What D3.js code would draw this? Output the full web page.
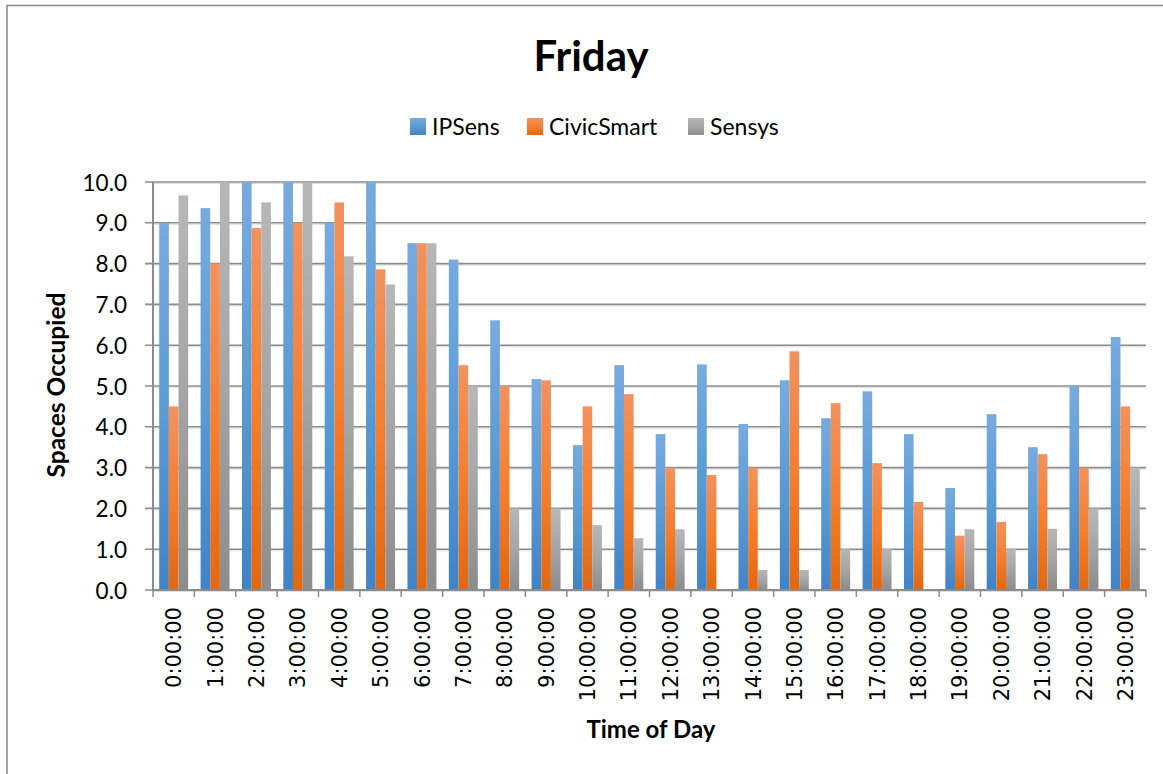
<!DOCTYPE html>
<html>
<head>
<meta charset="utf-8">
<script src="https://cdn.jsdelivr.net/npm/d3@7"></script>
<style>
  html, body { margin: 0; padding: 0; background: #fff; }
  svg { display: block; }
</style>
</head>
<body>
<svg id="chart" width="1163" height="774"></svg>
<script>
const categories = ["0:00:00","1:00:00","2:00:00","3:00:00","4:00:00","5:00:00","6:00:00","7:00:00",
  "8:00:00","9:00:00","10:00:00","11:00:00","12:00:00","13:00:00","14:00:00","15:00:00",
  "16:00:00","17:00:00","18:00:00","19:00:00","20:00:00","21:00:00","22:00:00","23:00:00"];
const seriesNames = ["IPSens", "CivicSmart", "Sensys"];
const ipsens     = [9.0, 9.36, 10.0, 10.0, 9.0, 10.0, 8.5, 8.1, 6.61, 5.17, 3.55, 5.51, 3.82, 5.53, 4.07, 5.14, 4.21, 4.87, 3.82, 2.5, 4.31, 3.5, 5.0, 6.2];
const civicsmart = [4.5, 8.0, 8.87, 9.0, 9.5, 7.86, 8.5, 5.51, 5.0, 5.14, 4.5, 4.8, 3.0, 2.82, 3.0, 5.85, 4.58, 3.11, 2.16, 1.33, 1.67, 3.33, 3.0, 4.5];
const sensys     = [9.67, 10.0, 9.5, 10.0, 8.18, 7.49, 8.5, 5.0, 2.0, 2.0, 1.59, 1.27, 1.49, 0, 0.49, 0.49, 1.0, 1.0, 0, 1.49, 1.0, 1.5, 2.0, 3.0];
const yTicks = [0,1,2,3,4,5,6,7,8,9,10];
const titleText = "Friday";
const xTitle = "Time of Day";
const yTitle = "Spaces Occupied";

const seriesValues = [ipsens, civicsmart, sensys];
const gradStops = [
  ["#78abdf", "#5b9bd5", "#4083c6"],
  ["#f2925f", "#f47f2f", "#e2670f"],
  ["#b7b7b7", "#a5a5a5", "#8c8c8c"]
];

const svg = d3.select("#chart");
const font = "Lato, 'Open Sans', sans-serif";

const defs = svg.append("defs");
gradStops.forEach((s, i) => {
  const g = defs.append("linearGradient").attr("id", "g" + i)
    .attr("x1", 0).attr("y1", 0).attr("x2", 0).attr("y2", 1);
  g.append("stop").attr("offset", "0%").attr("stop-color", s[0]);
  g.append("stop").attr("offset", "50%").attr("stop-color", s[1]);
  g.append("stop").attr("offset", "100%").attr("stop-color", s[2]);
});

// chart border
svg.append("path").attr("d", "M7,1000 V5.5 H1200")
  .attr("fill", "none").attr("stroke", "#8c8c8c").attr("stroke-width", 1.5);

const plot = { left: 153, right: 1146, top: 182, bottom: 590 };

const x0 = d3.scaleBand().domain(categories).range([plot.left, plot.right]).paddingInner(0.3).paddingOuter(0.15);
const x1 = d3.scaleBand().domain(seriesNames).range([0, x0.bandwidth()]);
const y = d3.scaleLinear().domain([0, 10]).range([plot.bottom, plot.top]);

// gridlines
const grid = svg.append("g");
yTicks.forEach(t => {
  grid.append("line").attr("x1", plot.left).attr("x2", plot.right)
    .attr("y1", y(t) + 1.5).attr("y2", y(t) + 1.5)
    .attr("stroke", "#e0e0e0").attr("stroke-width", 1);
  grid.append("line").attr("x1", plot.left - 8).attr("x2", plot.right)
    .attr("y1", y(t)).attr("y2", y(t))
    .attr("stroke", "#8c8c8c").attr("stroke-width", 1.6);
});

// bars
const groups = svg.append("g").selectAll("g").data(categories).join("g")
  .attr("transform", d => `translate(${x0(d)},0)`);
groups.selectAll("rect")
  .data((d, i) => seriesNames.map((s, j) => ({ s, j, v: seriesValues[j][i] })))
  .join("rect")
  .filter(d => d.v > 0)
  .attr("x", d => x1(d.s))
  .attr("width", x1.bandwidth())
  .attr("y", d => y(d.v))
  .attr("height", d => y(0) - y(d.v))
  .attr("fill", d => `url(#g${d.j})`);

// axes lines
svg.append("line").attr("x1", plot.left).attr("x2", plot.left)
  .attr("y1", plot.top).attr("y2", plot.bottom)
  .attr("stroke", "#8c8c8c").attr("stroke-width", 2);
svg.append("line").attr("x1", plot.left).attr("x2", plot.right)
  .attr("y1", plot.bottom).attr("y2", plot.bottom)
  .attr("stroke", "#8c8c8c").attr("stroke-width", 2);

// x tick marks at band boundaries
const step = x0.step();
const boundaries = d3.range(categories.length + 1).map(i => plot.left + i * step);
svg.append("g").selectAll("line").data(boundaries).join("line")
  .attr("x1", d => d).attr("x2", d => d)
  .attr("y1", plot.bottom).attr("y2", plot.bottom + 7)
  .attr("stroke", "#8c8c8c").attr("stroke-width", 1.5);

// y axis labels
const yAxis = d3.axisLeft(y).tickValues(yTicks).tickFormat(d3.format(".1f")).tickSize(0).tickPadding(0);
const ya = svg.append("g").attr("transform", `translate(127,0)`).call(yAxis);
ya.select(".domain").remove();
ya.selectAll("text").attr("font-family", font).attr("font-size", 22.5).attr("fill", "#000").attr("dy", "0.36em");

// x axis labels
const xAxis = d3.axisBottom(x0).tickSize(0).tickPadding(0);
const xa = svg.append("g").attr("transform", `translate(0,${plot.bottom})`).call(xAxis);
xa.select(".domain").remove();
xa.selectAll("text")
  .attr("font-family", "'DejaVu Sans', Verdana, sans-serif").attr("font-size", 21).attr("fill", "#000")
  .attr("text-anchor", "end").attr("transform", "rotate(-90)")
  .attr("x", -17).attr("y", 0).attr("dy", "0.36em");

// title
svg.append("text").attr("x", 591).attr("y", 71).attr("text-anchor", "middle")
  .attr("font-family", font).attr("font-weight", "bold").attr("font-size", 42).text(titleText);

// legend
const legendItems = [{ x: 410 }, { x: 527 }, { x: 688 }];
seriesNames.forEach((s, i) => {
  svg.append("rect").attr("x", legendItems[i].x).attr("y", 118).attr("width", 16).attr("height", 17)
    .attr("fill", `url(#g${i})`);
  svg.append("text").attr("x", legendItems[i].x + 22).attr("y", 135)
    .attr("font-family", font).attr("font-size", 23).text(s);
});

// axis titles
svg.append("text").attr("x", 651).attr("y", 738).attr("text-anchor", "middle")
  .attr("font-family", font).attr("font-weight", "bold").attr("font-size", 24).text(xTitle);
svg.append("text").attr("transform", "translate(65,385) rotate(-90)").attr("text-anchor", "middle")
  .attr("font-family", font).attr("font-weight", "bold").attr("font-size", 24.5).text(yTitle);
</script>
</body>
</html>
